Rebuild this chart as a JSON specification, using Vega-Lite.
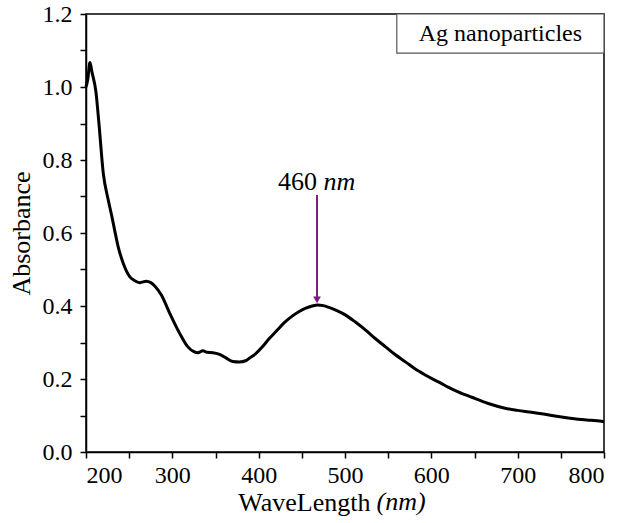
{
  "$schema": "https://vega.github.io/schema/vega-lite/v6.json",
  "width": 518,
  "height": 438,
  "autosize": {"type": "none"},
  "padding": {"left": 86, "top": 14, "right": 23, "bottom": 71},
  "background": "white",
  "config": {
    "font": "Liberation Serif",
    "view": {"stroke": "black", "strokeWidth": 1.5},
    "axis": {
      "domainColor": "black",
      "domainWidth": 1.5,
      "tickColor": "black",
      "tickWidth": 1.5,
      "ticks": true,
      "tickOpacity": 1,
      "labelColor": "black",
      "titleColor": "black",
      "labelFont": "Liberation Serif",
      "titleFont": "Liberation Serif",
      "labelFontSize": 24,
      "titleFontSize": 26,
      "titleFontWeight": "normal",
      "grid": false
    }
  },
  "resolve": {"axis": {"x": "independent", "y": "independent"}},
  "datasets": {
    "curve": [
      {"wl": 200, "abs": 1.0},
      {"wl": 202, "abs": 1.02},
      {"wl": 204.6, "abs": 1.067},
      {"wl": 207, "abs": 1.04},
      {"wl": 211.5, "abs": 0.987},
      {"wl": 215, "abs": 0.9},
      {"wl": 220, "abs": 0.764},
      {"wl": 225.8, "abs": 0.69},
      {"wl": 230, "abs": 0.645},
      {"wl": 233, "abs": 0.61},
      {"wl": 237.3, "abs": 0.562},
      {"wl": 243, "abs": 0.518},
      {"wl": 250.8, "abs": 0.48},
      {"wl": 256, "abs": 0.47},
      {"wl": 262.3, "abs": 0.464},
      {"wl": 270, "abs": 0.468},
      {"wl": 275, "abs": 0.464},
      {"wl": 279.6, "abs": 0.455},
      {"wl": 287.3, "abs": 0.43},
      {"wl": 297, "abs": 0.38},
      {"wl": 308.5, "abs": 0.325},
      {"wl": 318, "abs": 0.288},
      {"wl": 325, "abs": 0.275},
      {"wl": 329.6, "abs": 0.272},
      {"wl": 335.4, "abs": 0.2775},
      {"wl": 340, "abs": 0.273},
      {"wl": 346.9, "abs": 0.272},
      {"wl": 354.6, "abs": 0.2676},
      {"wl": 362, "abs": 0.258},
      {"wl": 370, "abs": 0.248},
      {"wl": 377.7, "abs": 0.2466},
      {"wl": 385, "abs": 0.25},
      {"wl": 389.2, "abs": 0.257},
      {"wl": 397, "abs": 0.27},
      {"wl": 405, "abs": 0.29},
      {"wl": 412, "abs": 0.31},
      {"wl": 420, "abs": 0.33},
      {"wl": 430, "abs": 0.355},
      {"wl": 439.2, "abs": 0.373},
      {"wl": 447, "abs": 0.385},
      {"wl": 454.6, "abs": 0.394},
      {"wl": 462, "abs": 0.4},
      {"wl": 468, "abs": 0.403},
      {"wl": 475, "abs": 0.401},
      {"wl": 481.5, "abs": 0.396},
      {"wl": 490, "abs": 0.388},
      {"wl": 500.8, "abs": 0.375},
      {"wl": 512, "abs": 0.356},
      {"wl": 523.9, "abs": 0.334},
      {"wl": 535, "abs": 0.311},
      {"wl": 547, "abs": 0.288},
      {"wl": 558, "abs": 0.267},
      {"wl": 570, "abs": 0.247},
      {"wl": 581, "abs": 0.228},
      {"wl": 593, "abs": 0.211},
      {"wl": 604, "abs": 0.197},
      {"wl": 610, "abs": 0.19},
      {"wl": 620, "abs": 0.177},
      {"wl": 631, "abs": 0.165},
      {"wl": 646.9, "abs": 0.15},
      {"wl": 666, "abs": 0.133},
      {"wl": 685.4, "abs": 0.12},
      {"wl": 700, "abs": 0.114},
      {"wl": 716, "abs": 0.109},
      {"wl": 730, "abs": 0.104},
      {"wl": 747, "abs": 0.097},
      {"wl": 770, "abs": 0.09},
      {"wl": 785, "abs": 0.087},
      {"wl": 795, "abs": 0.085},
      {"wl": 800, "abs": 0.083}
    ]
  },
  "layer": [
    {
      "data": {"name": "curve"},
      "mark": {"type": "line", "color": "black", "strokeWidth": 3, "interpolate": "monotone"},
      "encoding": {
        "x": {
          "field": "wl", "type": "quantitative",
          "scale": {"domain": [200, 800], "nice": false, "zero": false},
          "axis": {
            "orient": "bottom",
            "title": "WaveLength",
            "values": [200, 300, 400, 500, 600, 700, 800],
            "ticks": false,
            "labelPadding": 11,
            "titleAlign": "right",
            "titleAnchor": "start",
            "titleX": 284,
            "titleY": 58,
            "titleBaseline": "alphabetic"
          }
        },
        "y": {
          "field": "abs", "type": "quantitative",
          "scale": {"domain": [0, 1.2], "nice": false},
          "axis": {
            "orient": "left",
            "title": "Absorbance",
            "values": [0, 0.2, 0.4, 0.6, 0.8, 1.0, 1.2],
            "format": ".1f",
            "ticks": false,
            "labelPadding": 14,
            "titlePadding": 8
          }
        }
      }
    },
    {
      "data": {"values": [{"wl": 560, "wl2": 800, "abs": 1.093, "abs2": 1.2}]},
      "mark": {"type": "rect", "fill": "white", "stroke": "#555555", "strokeWidth": 1.2},
      "encoding": {
        "x": {
          "field": "wl", "type": "quantitative",
          "axis": {"orient": "bottom", "title": null, "values": [200, 250, 300, 350, 400, 450, 500, 550, 600, 650, 700, 750, 800], "labels": false, "domain": false, "ticks": true, "tickSize": 6}
        },
        "x2": {"field": "wl2"},
        "y": {
          "field": "abs", "type": "quantitative",
          "axis": {"orient": "left", "title": null, "values": [0, 0.1, 0.2, 0.3, 0.4, 0.5, 0.6, 0.7, 0.8, 0.9, 1.0, 1.1, 1.2], "labels": false, "domain": false, "ticks": true, "tickSize": 6}
        },
        "y2": {"field": "abs2"}
      }
    },
    {
      "data": {"values": [{"wl": 680, "abs": 1.145, "label": "Ag nanoparticles"}]},
      "mark": {"type": "text", "font": "Liberation Serif", "fontSize": 24, "color": "black", "align": "center", "baseline": "middle"},
      "encoding": {
        "x": {"field": "wl", "type": "quantitative", "axis": null},
        "y": {"field": "abs", "type": "quantitative", "axis": null},
        "text": {"field": "label"}
      }
    },
    {
      "data": {"values": [{"wl": 467.6, "abs": 0.704, "abs2": 0.42}]},
      "mark": {"type": "rule", "color": "#7d1a80", "strokeWidth": 2},
      "encoding": {
        "x": {"field": "wl", "type": "quantitative", "axis": null},
        "y": {"field": "abs", "type": "quantitative", "axis": null},
        "y2": {"field": "abs2"}
      }
    },
    {
      "data": {"values": [{"wl": 467.6, "abs": 0.417}]},
      "mark": {"type": "point", "shape": "triangle-down", "filled": true, "color": "#7d1a80", "size": 60, "opacity": 1},
      "encoding": {
        "x": {"field": "wl", "type": "quantitative", "axis": null},
        "y": {"field": "abs", "type": "quantitative", "axis": null}
      }
    },
    {
      "data": {"values": [{"wl": 467.6, "abs": 0.718, "label": "460"}]},
      "mark": {"type": "text", "font": "Liberation Serif", "fontSize": 26, "color": "black", "align": "right", "baseline": "alphabetic"},
      "encoding": {
        "x": {"field": "wl", "type": "quantitative", "axis": null},
        "y": {"field": "abs", "type": "quantitative", "axis": null},
        "text": {"field": "label"}
      }
    },
    {
      "data": {"values": [{"wl": 475, "abs": 0.718, "label": "nm"}]},
      "mark": {"type": "text", "font": "Liberation Serif", "fontSize": 26, "fontStyle": "italic", "color": "black", "align": "left", "baseline": "alphabetic"},
      "encoding": {
        "x": {"field": "wl", "type": "quantitative", "axis": null},
        "y": {"field": "abs", "type": "quantitative", "axis": null},
        "text": {"field": "label"}
      }
    },
    {
      "data": {"values": [{"wl": 536.5, "abs": -0.159, "label": "(nm)"}]},
      "mark": {"type": "text", "font": "Liberation Serif", "fontSize": 26, "fontStyle": "italic", "color": "black", "align": "left", "baseline": "alphabetic"},
      "encoding": {
        "x": {"field": "wl", "type": "quantitative", "axis": null},
        "y": {"field": "abs", "type": "quantitative", "axis": null},
        "text": {"field": "label"}
      }
    }
  ]
}
